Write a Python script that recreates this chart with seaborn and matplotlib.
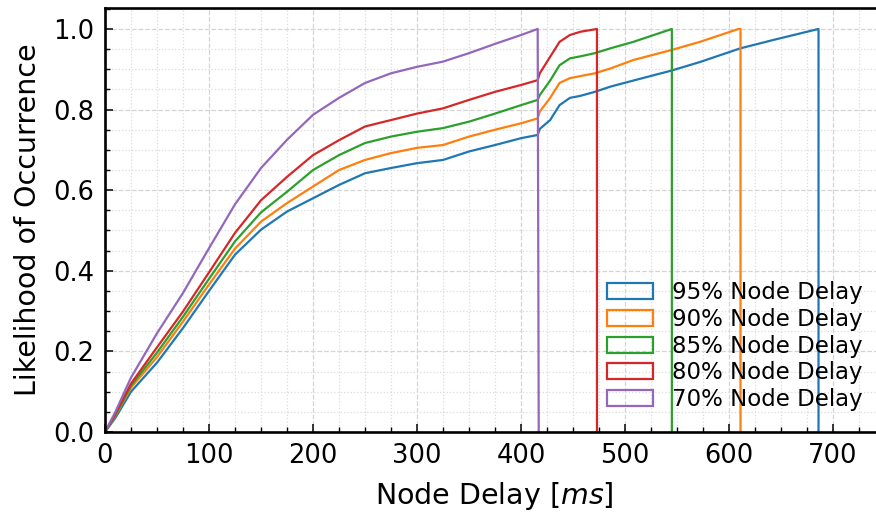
import matplotlib
matplotlib.use("Agg")
import matplotlib.pyplot as plt
from matplotlib.patches import Patch
from matplotlib.ticker import MultipleLocator
import seaborn as sns
import pandas as pd

# ---- data (CDF of node delay, ms) ----
labels = ["95% Node Delay", "90% Node Delay", "85% Node Delay",
          "80% Node Delay", "70% Node Delay"]
colors = ["#1f77b4", "#ff7f0e", "#2ca02c", "#d62728", "#9467bd"]

x_pre = [0, 10, 25, 50, 75, 100, 125, 150, 175, 200, 225, 250, 275, 300,
         325, 350, 375, 400, 416]

y95_pre = [0, 0.035, 0.10, 0.172, 0.258, 0.35, 0.44, 0.502, 0.547, 0.58,
           0.613, 0.642, 0.655, 0.667, 0.675, 0.696, 0.712, 0.729, 0.737]
y90_pre = [0, 0.04, 0.11, 0.186, 0.274, 0.366, 0.455, 0.522, 0.568, 0.609,
           0.65, 0.675, 0.692, 0.705, 0.712, 0.733, 0.75, 0.766, 0.778]
y85_pre = [0, 0.042, 0.115, 0.197, 0.286, 0.38, 0.473, 0.545, 0.596, 0.65,
           0.687, 0.717, 0.733, 0.745, 0.754, 0.77, 0.79, 0.811, 0.824]
y80_pre = [0, 0.045, 0.12, 0.21, 0.299, 0.396, 0.494, 0.575, 0.633, 0.687,
           0.724, 0.758, 0.774, 0.79, 0.803, 0.824, 0.844, 0.861, 0.873]
y70_pre = [0, 0.05, 0.135, 0.245, 0.345, 0.456, 0.565, 0.655, 0.725, 0.787,
           0.829, 0.866, 0.89, 0.906, 0.919, 0.94, 0.963, 0.985, 1.0]

x95_post = [418, 428, 437, 447, 457, 471, 486, 508, 545, 572, 611, 643, 686, 686]
y95_post = [0.752, 0.774, 0.811, 0.829, 0.834, 0.844, 0.857, 0.872, 0.897,
            0.918, 0.952, 0.973, 1.0, 0.0]
x90_post = [418, 428, 437, 447, 457, 471, 486, 508, 545, 572, 601, 609, 611, 611]
y90_post = [0.795, 0.829, 0.866, 0.878, 0.883, 0.89, 0.902, 0.923, 0.948,
            0.968, 0.993, 1.0, 1.0, 0.0]
x85_post = [418, 428, 437, 447, 457, 471, 486, 508, 545, 545]
y85_post = [0.836, 0.872, 0.91, 0.927, 0.932, 0.94, 0.952, 0.968, 1.0, 0.0]
x80_post = [418, 428, 437, 447, 457, 473, 473]
y80_post = [0.89, 0.931, 0.968, 0.985, 0.993, 1.0, 0.0]
x70_post = [417]
y70_post = [0.0]

xs = [x_pre + x95_post, x_pre + x90_post, x_pre + x85_post,
      x_pre + x80_post, x_pre + x70_post]
ys = [y95_pre + y95_post, y90_pre + y90_post, y85_pre + y85_post,
      y80_pre + y80_post, y70_pre + y70_post]

rows = []
for lab, xv, yv in zip(labels, xs, ys):
    for a, b in zip(xv, yv):
        rows.append({"series": lab, "delay": a, "cdf": b})
df = pd.DataFrame(rows)

# ---- style ----
sns.set_theme(style="white")
plt.rcParams["font.family"] = ["DejaVu Sans"]
plt.rcParams["mathtext.fontset"] = "dejavusans"
for k in ["text.color", "axes.labelcolor", "xtick.color", "ytick.color"]:
    plt.rcParams[k] = "black"

fig = plt.figure(figsize=(8.76, 5.13), dpi=100)
W, H = 876, 513
left_px, bottom_px, top_px, right_px = 105, 432, 8, 883
ax = fig.add_axes([left_px / W, (H - bottom_px) / H,
                   (right_px - left_px) / W, (bottom_px - top_px) / H])

sns.lineplot(data=df, x="delay", y="cdf", hue="series", hue_order=labels,
             palette=colors, sort=False, estimator=None, units="series",
             linewidth=1.6, legend=False, ax=ax)

ax.set_xlim(0, 748)
ax.set_ylim(0, 1.052)
ax.xaxis.set_major_locator(MultipleLocator(100))
ax.xaxis.set_minor_locator(MultipleLocator(25))
ax.yaxis.set_major_locator(MultipleLocator(0.2))
ax.yaxis.set_minor_locator(MultipleLocator(0.05))
ax.yaxis.set_major_formatter(matplotlib.ticker.FormatStrFormatter("%.1f"))

ax.grid(True, which="major", linestyle="--", color="#d4d4d4", linewidth=0.9)
ax.grid(True, which="minor", linestyle=":", color="#dcdcdc", linewidth=0.9)
ax.set_axisbelow(True)

for s in ax.spines.values():
    s.set_visible(True)
    s.set_color("black")
    s.set_linewidth(1.9)

ax.tick_params(which="major", direction="in", length=6, width=1.1,
               labelsize=18.5, color="black", labelcolor="black",
               bottom=True, left=True, top=False, right=False, pad=8)
ax.tick_params(which="minor", direction="in", length=3.5, width=1.0,
               color="black", bottom=True, left=True, top=False, right=False)

ax.set_xlabel("Node Delay [$ms$]", fontsize=20.5, labelpad=8)
ax.set_ylabel("Likelihood of Occurrence", fontsize=20.5, labelpad=8)

handles = [Patch(facecolor="none", edgecolor=c, linewidth=1.6) for c in colors]
fig.legend(handles, labels, loc="lower right", frameon=False,
           fontsize=16.5, labelspacing=0.17, handletextpad=0.8,
           bbox_to_anchor=(883 / W, (H - 432) / H))

fig.savefig("out.png", dpi=100)
